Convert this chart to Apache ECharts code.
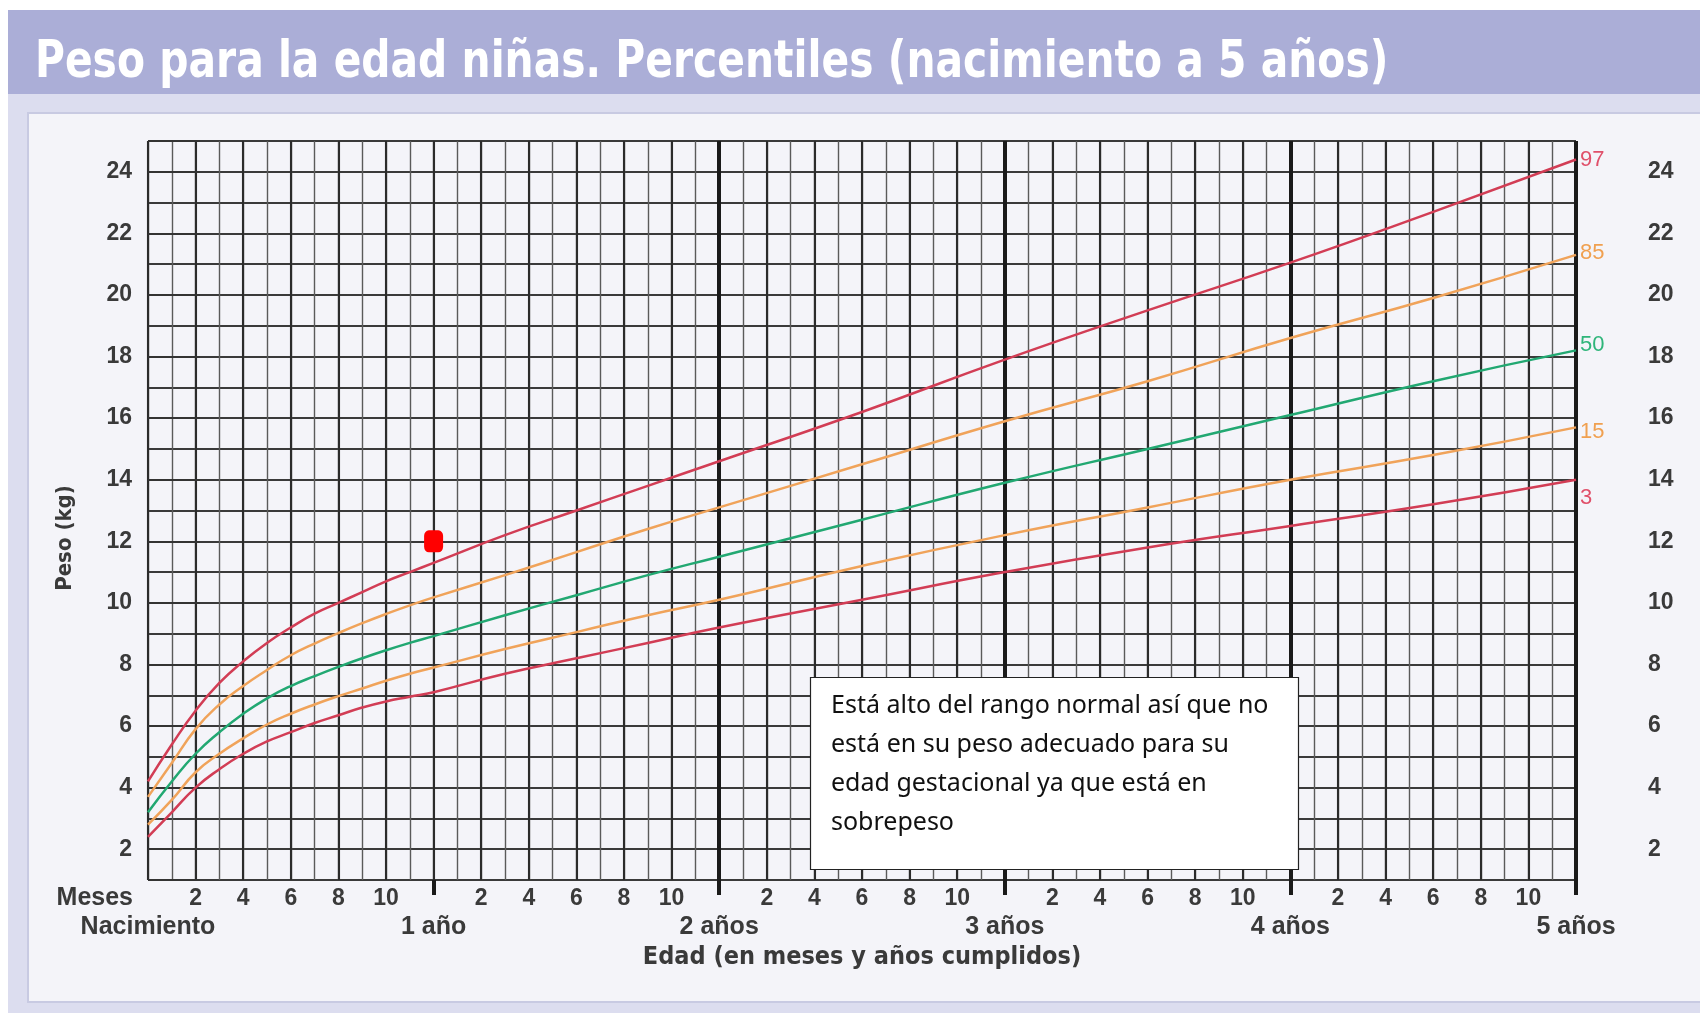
<!DOCTYPE html>
<html><head><meta charset="utf-8">
<script src="https://cdn.jsdelivr.net/npm/echarts@6/dist/echarts.min.js"></script>
<style>html,body{margin:0;padding:0;background:#fff}#c{width:1700px;height:1013px}</style>
</head><body><div id="c"></div>
<script>
// Age in months
const months = [0,1,2,3,4,5,6,7,8,9,10,11,12,15,18,21,24,30,36,42,48,54,60];
// Weight (kg) percentiles
const p3  = [2.4,3.2,4.0,4.6,5.1,5.5,5.8,6.1,6.35,6.6,6.8,6.95,7.1,7.7,8.2,8.7,9.2,10.1,11.0,11.8,12.5,13.2,14.0];
const p15 = [2.8,3.6,4.5,5.1,5.6,6.05,6.4,6.7,6.97,7.22,7.47,7.7,7.9,8.5,9.05,9.6,10.1,11.2,12.2,13.1,14.0,14.8,15.7];
const p50 = [3.2,4.2,5.1,5.8,6.4,6.9,7.3,7.62,7.92,8.2,8.46,8.7,8.92,9.6,10.25,10.9,11.5,12.7,13.9,15.0,16.1,17.2,18.2];
const p85 = [3.7,4.8,5.9,6.7,7.3,7.82,8.3,8.68,9.02,9.34,9.64,9.92,10.18,10.9,11.65,12.4,13.1,14.5,15.9,17.2,18.6,19.9,21.3];
const p97 = [4.2,5.4,6.5,7.4,8.1,8.7,9.2,9.65,10.0,10.35,10.7,11.0,11.3,12.2,13.0,13.8,14.6,16.2,17.9,19.5,21.05,22.7,24.4];
// Patient point (age months, weight kg)
const patient = [[12, 12]];
// Tick labels
const yearLabels = ['Nacimiento','1 año','2 años','3 años','4 años','5 años'];
const weightLabels = [2,4,6,8,10,12,14,16,18,20,22,24];
const percentileNames = ['97','85','50','15','3'];

const narrow = "'Liberation Sans Narrow','DejaVu Sans Condensed','Arial Narrow',sans-serif";
const sans = "'Liberation Sans',Arial,sans-serif";
const labelColor = '#3a3a3a';

const chart = echarts.init(document.getElementById('c'), null, {renderer: 'canvas'});

function mk(name, data, color, labelColorP, off) {
  return {
    type: 'line', name: name, xAxisIndex: 0, yAxisIndex: 0,
    data: months.map((m, i) => [m, data[i]]),
    smooth: 0.5, symbol: 'none',
    lineStyle: {color: color, width: 2.5},
    z: 5,
    endLabel: {show: true, formatter: name, color: labelColorP, fontSize: 22,
      fontFamily: sans, distance: 4, offset: off}
  };
}

const yTickVals = [1].concat(weightLabels).concat([25]);

chart.setOption({
  animation: false,
  backgroundColor: '#ffffff',
  graphic: [
    {type: 'rect', z: -100, shape: {x: 8, y: 10, width: 1692, height: 1003}, style: {fill: '#dcddef'}, silent: true},
    {type: 'rect', z: -99, shape: {x: 8, y: 10, width: 1692, height: 84}, style: {fill: '#abaed7'}, silent: true},
    {type: 'rect', z: -98, shape: {x: 28, y: 113, width: 1690, height: 889}, style: {fill: '#f4f4f9', stroke: '#c8cae2', lineWidth: 2}, silent: true},
    {type: 'text', z: 50, x: 35, y: 64, scaleX: 0.89, style: {text: 'Peso para la edad niñas. Percentiles (nacimiento a 5 años)',
      fill: '#ffffff', font: 'bold 51px ' + narrow, textAlign: 'left', textVerticalAlign: 'middle'}},
    {type: 'text', z: 50, x: 133, y: 898, style: {text: 'Meses', fill: labelColor,
      font: 'bold 25px ' + sans, textAlign: 'right', textVerticalAlign: 'middle'}},
    {type: 'text', z: 50, x: 65, y: 538, rotation: Math.PI / 2, style: {text: 'Peso (kg)', fill: labelColor,
      font: 'bold 22px ' + narrow, textAlign: 'center', textVerticalAlign: 'middle'}},
    {type: 'group', z: 100, children: [
      {type: 'rect', z: 100, shape: {x: 810.5, y: 677.5, width: 488, height: 192}, style: {fill: '#ffffff', stroke: '#222', lineWidth: 1.2}},
      {type: 'text', z: 101, x: 831, y: 686, style: {
        text: 'Está alto del rango normal así que no\nestá en su peso adecuado para su\nedad gestacional ya que está en\nsobrepeso',
        fill: '#111', fontFamily: "'Noto Sans','Open Sans',sans-serif", fontSize: 25, lineHeight: 39, textAlign: 'left', textVerticalAlign: 'top'}}
    ]}
  ],
  grid: {left: 148, right: 124, top: 141, bottom: 133, containLabel: false},
  xAxis: [
    {type: 'value', min: 0, max: 60, interval: 1, position: 'bottom',
     axisLine: {show: false}, axisTick: {show: false}, axisLabel: {show: false},
     splitLine: {show: true, lineStyle: {color: '#5a5a5a', width: 1.4}}},
    {type: 'value', min: 0, max: 60, interval: 2, position: 'bottom',
     axisLine: {show: false}, axisTick: {show: false},
     axisLabel: {show: true, margin: 7, fontSize: 23, fontWeight: 'bold', fontFamily: sans, color: labelColor,
       formatter: v => (v % 12 === 0 ? '' : String(v % 12))},
     splitLine: {show: true, lineStyle: {color: '#2b2b2b', width: 2.1}}},
    {type: 'value', min: 0, max: 60, interval: 12, position: 'bottom',
     axisLine: {show: false},
     axisTick: {show: true, length: 15, customValues: [12, 24, 36, 48, 60], lineStyle: {color: '#1a1a1a', width: 4}},
     axisLabel: {show: true, margin: 35, fontSize: 25, fontWeight: 'bold', fontFamily: sans, color: labelColor,
       showMinLabel: true, showMaxLabel: true,
       formatter: v => yearLabels[Math.round(v / 12)]},
     splitLine: {show: true, showMinLine: false, lineStyle: {color: '#1a1a1a', width: 4}},
     name: 'Edad (en meses y años cumplidos)', nameLocation: 'middle', nameGap: 63,
     nameTextStyle: {fontSize: 25, fontFamily: narrow, fontWeight: 'bold', color: labelColor}}
  ],
  yAxis: [
    {type: 'value', min: 1, max: 25, interval: 1, position: 'left',
     axisLine: {show: false}, axisTick: {show: false},
     axisLabel: {show: true, margin: 16, fontSize: 23, fontWeight: 'bold', fontFamily: sans, color: labelColor,
       formatter: v => (v % 2 === 0 ? String(v) : '')},
     splitLine: {show: true, lineStyle: {color: '#3a3a3a', width: 1.8}}},
    {type: 'value', min: 1, max: 25, interval: 1, position: 'right',
     axisLine: {show: false},
     axisTick: {show: true, length: 52, customValues: yTickVals, lineStyle: {color: '#333', width: 2}},
     axisLabel: {show: true, margin: 72, fontSize: 23, fontWeight: 'bold', fontFamily: sans, color: labelColor,
       formatter: v => (v % 2 === 0 ? String(v) : '')},
     splitLine: {show: false}}
  ],
  series: [
    mk(percentileNames[0], p97, '#d23d55', '#e0506a', [0, 0]),
    mk(percentileNames[1], p85, '#f0a35a', '#f0a050', [0, -2]),
    mk(percentileNames[2], p50, '#22a872', '#2fb57a', [0, -5]),
    mk(percentileNames[3], p15, '#f0a35a', '#f0a050', [0, 5]),
    mk(percentileNames[4], p3,  '#d23d55', '#e0506a', [0, 18]),
    {type: 'scatter', xAxisIndex: 0, yAxisIndex: 0, data: patient, symbol: 'roundRect',
     symbolSize: [19, 22], itemStyle: {color: '#ff0000', opacity: 1}, z: 20}
  ]
});
</script></body></html>
